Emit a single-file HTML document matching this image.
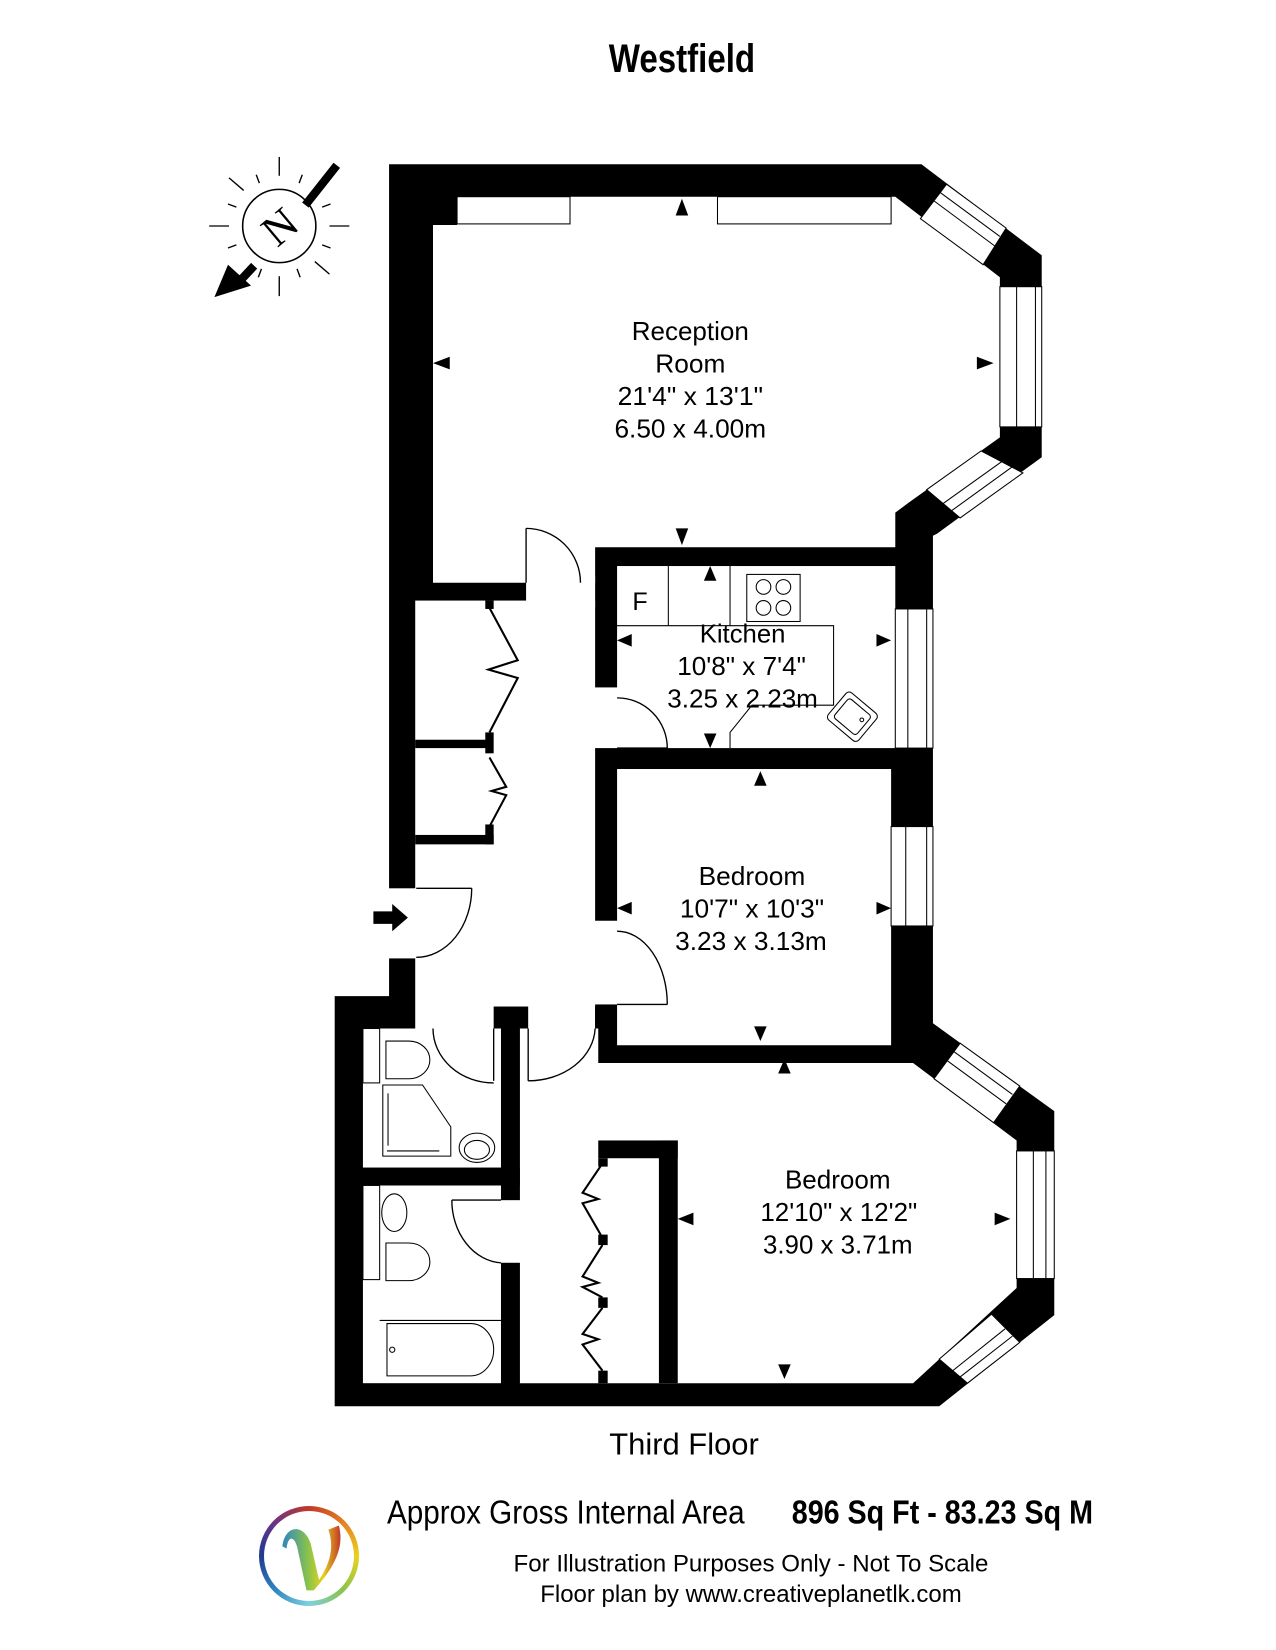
<!DOCTYPE html>
<html><head><meta charset="utf-8"><style>
html,body{margin:0;padding:0;background:#fff;}
body{width:1276px;height:1650px;position:relative;overflow:hidden;}
svg{position:absolute;left:0;top:0;}
.logo{position:absolute;left:259px;top:1506px;width:100px;height:100px;border-radius:50%;
background:conic-gradient(from 0deg,#c0392b,#e67e22,#e8d21d,#8bc34a,#7fd0e0,#2e86c1,#1f3a93,#6c3483,#c0392b);}
.logo .in{position:absolute;left:5px;top:5px;width:90px;height:90px;border-radius:50%;background:#fff;}
</style></head><body>
<svg width="1276" height="1650" viewBox="0 0 1220 1577" preserveAspectRatio="none" xmlns="http://www.w3.org/2000/svg">
<g font-family="Liberation Sans, Arial, sans-serif" fill="#000">
<text x="652" y="69" font-size="38" font-weight="bold" text-anchor="middle" textLength="140" lengthAdjust="spacingAndGlyphs">Westfield</text>
</g>

<!-- compass -->
<g stroke="#000" fill="none">
<circle cx="267" cy="216" r="35" stroke-width="1.5"/>
<g stroke-width="1.3">
<line x1="267" y1="168" x2="267" y2="150"/><line x1="267" y1="264" x2="267" y2="283"/>
<line x1="219" y1="216" x2="200" y2="216"/><line x1="315" y1="216" x2="334" y2="216"/>
<line x1="233" y1="182" x2="219" y2="170"/><line x1="301" y1="250" x2="315" y2="262"/>
<line x1="248" y1="175" x2="245" y2="167"/><line x1="286" y1="175" x2="289" y2="167"/>
<line x1="226" y1="198" x2="218" y2="195"/><line x1="226" y1="234" x2="218" y2="237"/>
<line x1="308" y1="198" x2="316" y2="195"/><line x1="308" y1="234" x2="316" y2="237"/>
<line x1="250" y1="257" x2="247" y2="265"/><line x1="284" y1="257" x2="287" y2="265"/>
</g>
<line x1="322" y1="158" x2="292" y2="196" stroke-width="8"/>
<line x1="243" y1="254" x2="228" y2="270" stroke-width="8"/>
</g>
<polygon points="205,284 218,253 240,273" fill="#000"/>
<text x="267" y="231" font-family="Liberation Serif, serif" font-size="42" text-anchor="middle" transform="rotate(-40 267 216)">N</text>

<!-- outer walls -->
<polygon fill="#000" points="372,157 881,157 996,244 996,437 896,510 892,512 892,978 1008,1062 1008,1257 898,1344 320,1344 320,952 372,952"/>

<!-- white interiors -->
<g fill="#fff">
<polygon points="414,215 437,215 437,188 856,188 956,265 956,418 868,481 856,490 856,523 569,523 569,557 414,557"/>
<rect x="503" y="550" width="66" height="30"/>
<rect x="397" y="574" width="172" height="409"/>
<rect x="371" y="849" width="27" height="67"/>
<rect x="414" y="955" width="58" height="32"/>
<rect x="347" y="983" width="132" height="133"/>
<rect x="347" y="1133" width="132" height="189"/>
<rect x="475" y="1147" width="25" height="60"/>
<polygon points="497,983 572,983 572,1016 873,1016 972,1090 972,1231 873,1322 497,1322"/>
<rect x="590" y="541" width="266" height="174"/>
<rect x="565" y="657" width="28" height="58"/>
<rect x="590" y="735" width="262" height="264"/>
<rect x="565" y="880" width="28" height="80"/>
</g>
<g fill="none" stroke="#000" stroke-width="1">
<rect x="437" y="188" width="108" height="26"/>
<rect x="686" y="188" width="166" height="26"/>
</g>

<!-- interior black bits -->
<g fill="#000">
<rect x="397" y="707" width="70" height="8"/>
<rect x="464" y="700" width="8" height="20"/>
<rect x="464" y="574" width="8" height="8"/>
<rect x="397" y="798" width="75" height="9"/>
<rect x="464" y="788" width="8" height="19"/>
<rect x="472" y="962" width="33" height="21"/>
<rect x="479" y="983" width="18" height="164"/>
<rect x="347" y="1116" width="150" height="17"/>
<rect x="479" y="1207" width="18" height="115"/>
<rect x="569" y="962" width="20" height="20"/>
<rect x="572" y="1090" width="76" height="17"/>
<rect x="630" y="1090" width="18" height="232"/>
<rect x="572" y="1107" width="9" height="8"/>
<rect x="572" y="1180" width="9" height="10"/>
<rect x="572" y="1240" width="9" height="10"/>
<rect x="572" y="1310" width="9" height="12"/>
</g>

<!-- windows -->
<g fill="#fff" stroke="#000" stroke-width="1">
<polygon points="905,176 962,218 940,253 880,209"/>
<line x1="893" y1="192" x2="951" y2="235"/><line x1="899" y1="184" x2="956" y2="226"/>
<polygon points="978,452 918,495 886,468 938,431"/>
<line x1="958" y1="441" x2="902" y2="481"/><line x1="968" y1="446" x2="910" y2="488"/>
<rect x="956" y="274" width="40" height="134"/>
<line x1="972" y1="274" x2="972" y2="408"/><line x1="990" y1="274" x2="990" y2="408"/>
<rect x="856" y="582" width="36" height="133"/>
<line x1="868" y1="582" x2="868" y2="715"/><line x1="886" y1="582" x2="886" y2="715"/>
<rect x="852" y="790" width="40" height="95"/>
<line x1="866" y1="790" x2="866" y2="885"/><line x1="886" y1="790" x2="886" y2="885"/>
<polygon points="918,997 975,1038 950,1073 893,1031"/>
<line x1="906" y1="1014" x2="962" y2="1055"/><line x1="912" y1="1005" x2="968" y2="1046"/>
<rect x="972" y="1100" width="36" height="122"/>
<line x1="988" y1="1100" x2="988" y2="1222"/><line x1="1000" y1="1100" x2="1000" y2="1222"/>
<polygon points="975,1283 925,1322 898,1299 948,1256"/>
<line x1="961" y1="1270" x2="911" y2="1310"/><line x1="968" y1="1277" x2="918" y2="1316"/>
</g>

<!-- doors -->
<g fill="none" stroke="#000" stroke-width="1.3">
<line x1="503" y1="505" x2="503" y2="557"/>
<path d="M503,505 A52,52 0 0 1 555,557"/>
<line x1="590" y1="715" x2="638" y2="715"/>
<path d="M590,667 A48,48 0 0 1 638,715"/>
<line x1="590" y1="960" x2="638" y2="960"/>
<path d="M590,890 A48,70 0 0 1 638,960"/>
<line x1="398" y1="849" x2="451" y2="849"/>
<path d="M451,849 A53,66 0 0 1 398,915"/>
<line x1="472" y1="983" x2="472" y2="1033"/>
<path d="M414,983 A58,52 0 0 0 472,1035"/>
<line x1="505" y1="983" x2="505" y2="1033"/>
<path d="M505,1033 A64,52 0 0 0 569,983"/>
<path d="M432,1147 A50,60 0 0 0 479,1207"/>
<line x1="432" y1="1147" x2="479" y2="1147"/>
<polyline points="468,581 495,631 467,640 495,648 468,700" stroke-width="2"/>
<polyline points="468,724 484,752 470,756 484,760 468,790" stroke-width="2"/>
<polyline points="576,1112 557,1140 572,1146 557,1150 576,1183" stroke-width="2"/>
<polyline points="576,1190 557,1220 572,1226 557,1230 576,1240" stroke-width="2"/>
<polyline points="576,1250 557,1275 572,1280 557,1285 576,1310" stroke-width="2"/>
</g>
<polygon points="357,871 375,871 375,864 390,877 375,890 375,883 357,883" fill="#000"/>

<!-- kitchen fixtures -->
<g fill="none" stroke="#000" stroke-width="1">
<polyline points="590,598 797,598 797,674 719,674 698,700 698,715"/>
<line x1="639" y1="541" x2="639" y2="598"/>
<line x1="698" y1="541" x2="698" y2="598"/>
<rect x="714" y="549" width="51" height="45"/>
<circle cx="730" cy="561" r="7"/><circle cx="749" cy="561" r="7"/>
<circle cx="730" cy="581" r="7"/><circle cx="749" cy="581" r="7"/>
<rect x="796" y="668" width="38" height="34" rx="4" transform="rotate(40 815 685)"/>
<rect x="801" y="673" width="28" height="24" rx="3" transform="rotate(40 815 685)"/>
<circle cx="824" cy="688" r="1.8"/>
</g>
<text x="612" y="583" font-family="Liberation Sans, sans-serif" font-size="24" text-anchor="middle">F</text>

<!-- bathroom fixtures -->
<g fill="none" stroke="#000" stroke-width="1">
<rect x="347" y="983" width="16" height="52"/>
<path d="M369,995 h22 a20,18 0 0 1 0,36 h-22 z"/>
<path d="M366,1037 h38 l27,40 v28 h-65 z"/>
<line x1="370" y1="1100" x2="420" y2="1100"/>
<line x1="371" y1="1045" x2="371" y2="1095"/>
<ellipse cx="456" cy="1097" rx="17" ry="14"/>
<ellipse cx="456" cy="1099" rx="12" ry="9"/>
<rect x="347" y="1133" width="16" height="90"/>
<ellipse cx="377" cy="1159" rx="12" ry="18"/>
<path d="M369,1188 h22 a20,18 0 0 1 0,36 h-22 z"/>
<line x1="363" y1="1262" x2="479" y2="1262"/>
<path d="M370,1265 h80 a22,25 0 0 1 0,50 h-80 z"/>
<circle cx="375" cy="1290" r="2.5"/>
</g>

<!-- dimension markers -->
<g fill="#000">
<polygon points="652,190 646,206 658,206"/>
<polygon points="652,521 646,505 658,505"/>
<polygon points="414,347 430,341 430,353"/>
<polygon points="950,347 934,341 934,353"/>
<polygon points="679,541 673,555 685,555"/>
<polygon points="679,715 673,701 685,701"/>
<polygon points="590,612 604,606 604,618"/>
<polygon points="852,612 838,606 838,618"/>
<polygon points="727,737 721,751 733,751"/>
<polygon points="727,995 721,981 733,981"/>
<polygon points="590,868 604,862 604,874"/>
<polygon points="852,868 838,862 838,874"/>
<polygon points="750,1012 744,1026 756,1026"/>
<polygon points="750,1318 744,1304 756,1304"/>
<polygon points="648,1165 663,1159 663,1171"/>
<polygon points="966,1165 951,1159 951,1171"/>
</g>

<!-- labels -->
<g font-family="Liberation Sans, Arial, sans-serif" font-size="25" fill="#000" text-anchor="middle">
<text x="660" y="325" textLength="112" lengthAdjust="spacingAndGlyphs">Reception</text>
<text x="660" y="356" textLength="67" lengthAdjust="spacingAndGlyphs">Room</text>
<text x="660" y="387" textLength="139" lengthAdjust="spacingAndGlyphs">21'4" x 13'1"</text>
<text x="660" y="418" textLength="145" lengthAdjust="spacingAndGlyphs">6.50 x 4.00m</text>
<text x="710" y="614" textLength="82" lengthAdjust="spacingAndGlyphs">Kitchen</text>
<text x="709" y="645" textLength="123" lengthAdjust="spacingAndGlyphs">10'8" x 7'4"</text>
<text x="710" y="676" textLength="144" lengthAdjust="spacingAndGlyphs">3.25 x 2.23m</text>
<text x="719" y="846" textLength="102" lengthAdjust="spacingAndGlyphs">Bedroom</text>
<text x="719" y="877" textLength="138" lengthAdjust="spacingAndGlyphs">10'7" x 10'3"</text>
<text x="718" y="908" textLength="145" lengthAdjust="spacingAndGlyphs">3.23 x 3.13m</text>
<text x="801" y="1136" textLength="101" lengthAdjust="spacingAndGlyphs">Bedroom</text>
<text x="802" y="1167" textLength="150" lengthAdjust="spacingAndGlyphs">12'10" x 12'2"</text>
<text x="801" y="1198" textLength="143" lengthAdjust="spacingAndGlyphs">3.90 x 3.71m</text>
<text x="654" y="1390" font-size="29" textLength="143" lengthAdjust="spacingAndGlyphs">Third Floor</text>
<text x="718" y="1502" font-size="23" textLength="454" lengthAdjust="spacingAndGlyphs">For Illustration Purposes Only - Not To Scale</text>
<text x="718" y="1531" font-size="23" textLength="403" lengthAdjust="spacingAndGlyphs">Floor plan by www.creativeplanetlk.com</text>
</g>
<text x="370" y="1456" font-family="Liberation Sans, Arial, sans-serif" font-size="32" textLength="342" lengthAdjust="spacingAndGlyphs">Approx Gross Internal Area</text>
<text x="757" y="1456" font-family="Liberation Sans, Arial, sans-serif" font-size="32" font-weight="bold" textLength="288" lengthAdjust="spacingAndGlyphs">896 Sq Ft  -  83.23 Sq M</text>
</svg>
<div class="logo"><div class="in"></div></div>
<svg width="1276" height="1650" viewBox="0 0 1220 1577" preserveAspectRatio="none">
<defs><linearGradient id="vg" x1="0" y1="0" x2="1" y2="0">
<stop offset="0" stop-color="#2e86c1"/><stop offset="0.45" stop-color="#8bc34a"/><stop offset="0.7" stop-color="#e8d21d"/><stop offset="1" stop-color="#c0392b"/></linearGradient></defs>
<path d="M270,1478 C272,1458 290,1455 297,1475 L305,1510 C315,1495 320,1480 314,1462 L324,1458 C330,1480 318,1500 300,1520 L293,1520 L284,1478 C280,1466 275,1470 274,1480 Z" fill="url(#vg)"/>
</svg>
</body></html>
